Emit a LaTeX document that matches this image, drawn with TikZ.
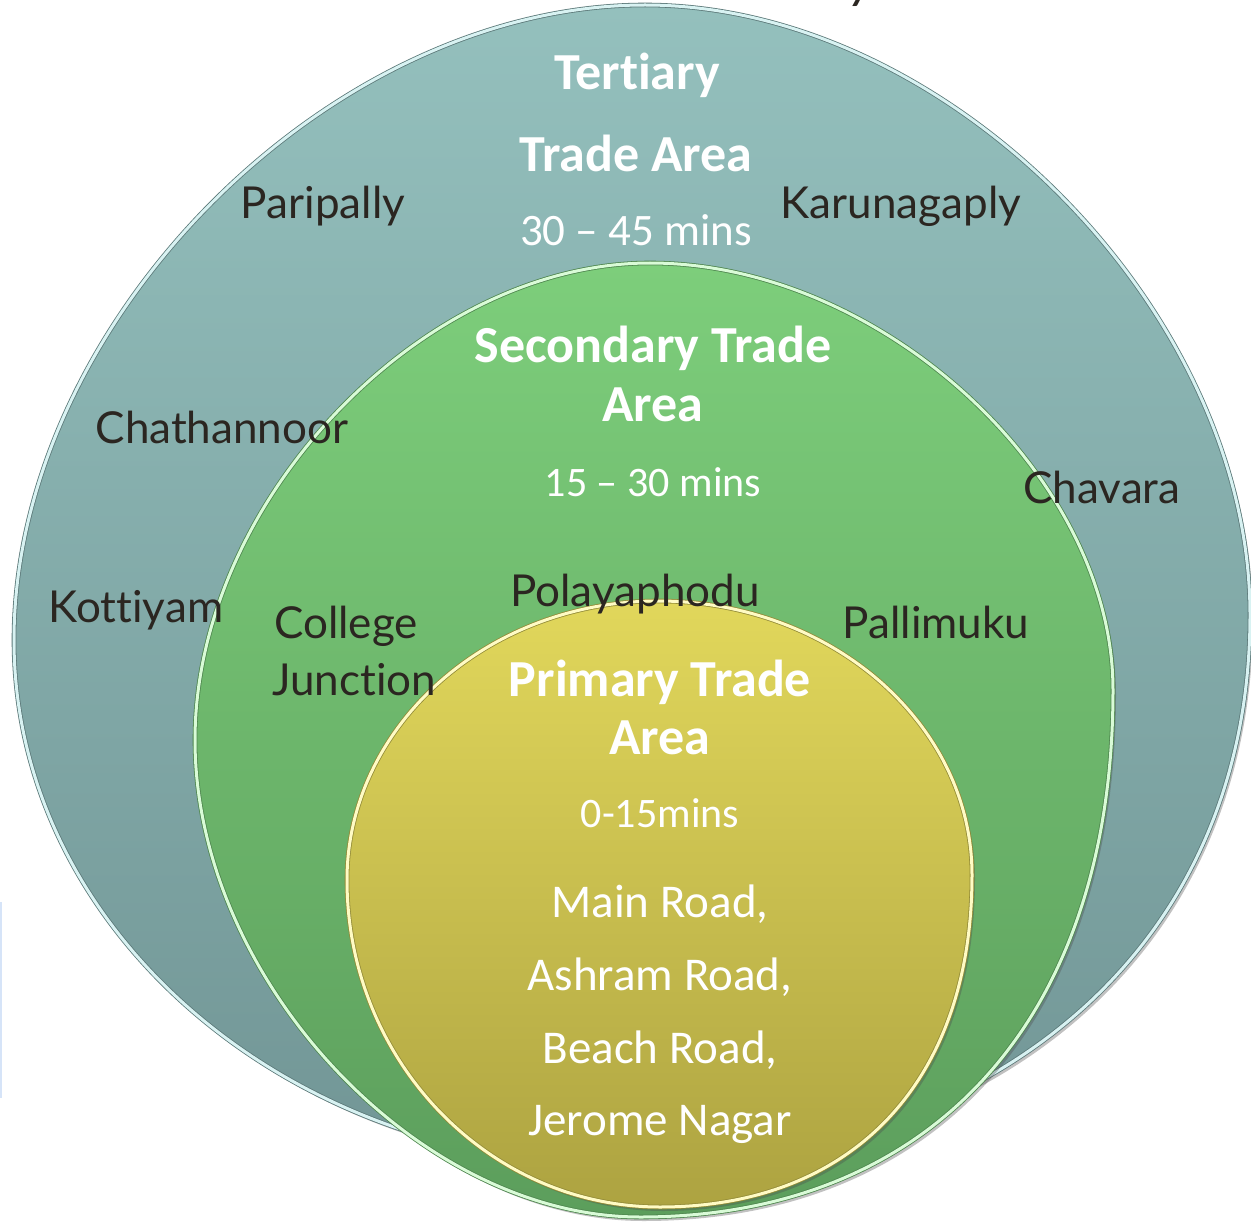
\documentclass[tikz,border=0pt]{standalone}
\usepackage{fontspec}
\setmainfont{Carlito}[Ligatures={NoCommon}]
\newfontfamily\placefont{Lato}[Ligatures={NoCommon}]
\usetikzlibrary{shadows}
\definecolor{tealtop}{HTML}{94C0BD}
\definecolor{tealbot}{HTML}{729696}
\definecolor{tealrim}{HTML}{D8F2F2}
\definecolor{greentop}{HTML}{7DCE7B}
\definecolor{greenbot}{HTML}{5C9E5C}
\definecolor{greenrim}{HTML}{D9FBD7}
\definecolor{yeltop}{HTML}{E1D75B}
\definecolor{yelbot}{HTML}{ADA341}
\definecolor{yelrim}{HTML}{FFFBC4}
\definecolor{placecol}{HTML}{2B2621}
\definecolor{leftline}{HTML}{D6E4F8}
\tikzset{
  disc/.style={drop shadow={opacity=0.35,shadow xshift=3pt,shadow yshift=-4pt,fill=black!70}},
  rim/.style={line width=0.8pt,double distance=3pt},
  title/.style={text=white,font=\bfseries\fontsize{52}{60}\selectfont,anchor=base,inner sep=0pt},
  mins/.style={text=white,font=\fontsize{42}{50}\selectfont,anchor=base,inner sep=0pt},
  road/.style={text=white,font=\fontsize{47}{55}\selectfont,anchor=base,inner sep=0pt},
  place/.style={text=placecol,font=\placefont\fontsize{44}{50}\selectfont,anchor=base,inner sep=0pt},
}
\begin{document}
\begin{tikzpicture}[x=1pt,y=-1pt]
\useasboundingbox (0,0) rectangle (1251,1225);

% cut-off heading letter and left margin line
\begin{scope}
\clip (0,0) rectangle (1251,1225);
\node[text=placecol,font=\fontsize{56}{60}\selectfont\itshape,anchor=base,inner sep=0pt] (heady) at (862,-2) {y};
\end{scope}
\fill[leftline] (0,902) rectangle (2,1098);

% tertiary disc
\def\tealpath{(645,5) .. controls (947,5) and (1250,310) .. (1250,615)
 .. controls (1250,945) and (998,1165) .. (620,1165)
 .. controls (287,1165) and (14,929) .. (14,640)
 .. controls (14,322) and (330,5) .. (645,5) -- cycle}
\path[disc,top color=tealtop,bottom color=tealbot] \tealpath;
\draw[rim,draw=tealbot!80!black,double=tealrim] \tealpath;

% secondary disc
\def\greenpath{(650,263) .. controls (881,263) and (1113,476) .. (1113,690)
 .. controls (1113,1017) and (933,1217) .. (640,1217)
 .. controls (417,1217) and (195,978) .. (195,740)
 .. controls (195,501) and (422,263) .. (650,263) -- cycle}
\path[disc,top color=greentop,bottom color=greenbot] \greenpath;
\draw[rim,draw=greenbot!85!black,double=greenrim] \greenpath;

% primary disc
\def\yelpath{(658,601) .. controls (831,601) and (972,724) .. (972,875)
 .. controls (972,1081) and (853,1207) .. (660,1207)
 .. controls (488,1207) and (347,1060) .. (347,880)
 .. controls (347,727) and (487,601) .. (658,601) -- cycle}
\path[disc,top color=yeltop,bottom color=yelbot] \yelpath;
\draw[rim,draw=yelbot!85!black,double=yelrim] \yelpath;

% tertiary texts
\node[title] (tert1) at (637,90) {Tertiary};
\node[title] (tert2) at (636,172) {Trade Area};
\node[mins,font=\fontsize{45}{50}\selectfont] (tertmins) at (636,246) {30 – 45 mins};

% secondary texts
\node[title] (sec1) at (653,362) {Secondary Trade};
\node[title] (sec2) at (653,421) {Area};
\node[mins] (secmins) at (653,496) {15 – 30 mins};

% primary texts
\node[title] (pri1) at (660,696) {Primary Trade};
\node[title] (pri2) at (660,754) {Area};
\node[mins] (primins) at (660,827) {0-15mins};
\node[road] (road1) at (660,917) {Main Road,};
\node[road] (road2) at (660,990) {Ashram Road,};
\node[road] (road3) at (660,1063) {Beach Road,};
\node[road] (road4) at (660,1135) {Jerome Nagar};

% place names
\node[place] (paripally) at (323,219) {Paripally};
\node[place] (karunagaply) at (901,219) {Karunagaply};
\node[place] (chathannoor) at (222,443) {Chathannoor};
\node[place] (chavara) at (1102,503) {Chavara};
\node[place] (kottiyam) at (136,622) {Kottiyam};
\node[place,anchor=base west] (college) at (274,638) {College};
\node[place,anchor=base west] (junction) at (272,695) {Junction};
\node[place] (polayaphodu) at (635,606) {Polayaphodu};
\node[place] (pallimuku) at (936,638) {Pallimuku};
\end{tikzpicture}
\end{document}
